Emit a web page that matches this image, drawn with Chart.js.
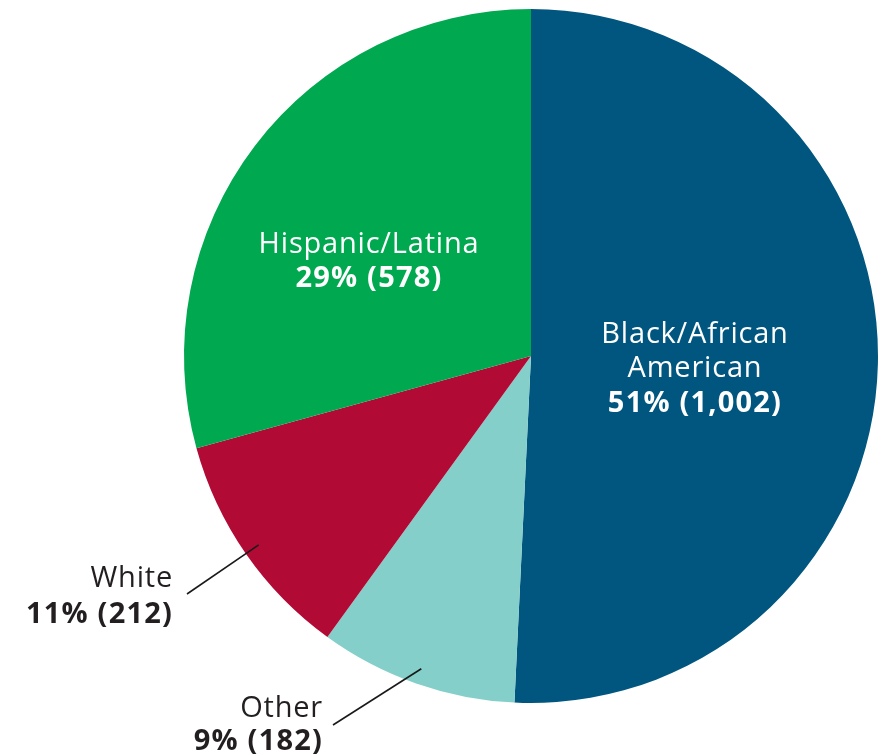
<!DOCTYPE html>
<html>
<head>
<meta charset="utf-8">
<script src="https://cdn.jsdelivr.net/npm/chart.js@4.4.1/dist/chart.umd.min.js"></script>
<style>
  html, body { margin: 0; padding: 0; background: #fff; }
  .box { width: 883px; height: 755px; position: relative; }
</style>
</head>
<body>
<div class="box">
  <canvas id="pie"></canvas>
</div>
<script>
// data, clockwise from 12 o'clock
const categories = ["Black/African American", "Other", "White", "Hispanic/Latina"];
const counts = [1002, 182, 212, 578];
const percents = [51, 9, 11, 29];
const nameLines = [["Black/African", "American"], ["Other"], ["White"], ["Hispanic/Latina"]];

const colors = ["#00567f", "#84cfc9", "#b10b35", "#00a94f"];

// label placement, offsets from the pie centre
const labelPos = [
  { x: 164, y: [-13, 21, 56], align: "center", color: "#fff" },
  { x: -208, y: [361, 394], align: "right", color: "#231f20", line: [-198, 369] },
  { x: -358, y: [231, 267], align: "right", color: "#231f20", line: [-344, 238] },
  { x: -162, y: [-103, -69], align: "center", color: "#fff" },
];

const labelPlugin = {
  id: "sliceLabels",
  afterDatasetsDraw(chart) {
    const ctx = chart.ctx;
    const arcs = chart.getDatasetMeta(0).data;
    ctx.save();
    arcs.forEach((arc, i) => {
      const { x, y, startAngle, endAngle, outerRadius } = arc.getProps(
        ["x", "y", "startAngle", "endAngle", "outerRadius"], true);
      const pos = labelPos[i];

      if (pos.line) {
        const mid = (startAngle + endAngle) / 2;
        const r = outerRadius * 0.955;
        ctx.beginPath();
        ctx.strokeStyle = "#1a1a1a";
        ctx.lineWidth = 1.6;
        ctx.moveTo(x + pos.line[0], y + pos.line[1]);
        ctx.lineTo(x + Math.cos(mid) * r, y + Math.sin(mid) * r);
        ctx.stroke();
      }

      ctx.fillStyle = pos.color;
      ctx.textAlign = pos.align;
      ctx.textBaseline = "alphabetic";
      const lines = nameLines[i];
      ctx.font = "29px 'Open Sans'";
      ctx.letterSpacing = "0.8px";
      lines.forEach((t, k) => {
        ctx.fillText(t, x + pos.x, y + pos.y[k]);
      });
      ctx.font = "bold 29px 'Open Sans'";
      ctx.letterSpacing = "1.2px";
      ctx.fillText(percents[i] + "% (" + counts[i].toLocaleString("en-US") + ")",
        x + pos.x, y + pos.y[lines.length]);
    });
    ctx.restore();
  },
};

new Chart(document.getElementById("pie"), {
  type: "pie",
  data: {
    labels: categories,
    datasets: [
      {
        data: counts,
        backgroundColor: colors,
        borderWidth: 0,
        hoverOffset: 0,
      },
    ],
  },
  options: {
    responsive: true,
    maintainAspectRatio: false,
    animation: false,
    layout: { padding: { left: 184, right: 5, top: 9, bottom: 52 } },
    plugins: {
      legend: { display: false },
      tooltip: { enabled: false },
    },
  },
  plugins: [labelPlugin],
});
</script>
</body>
</html>
